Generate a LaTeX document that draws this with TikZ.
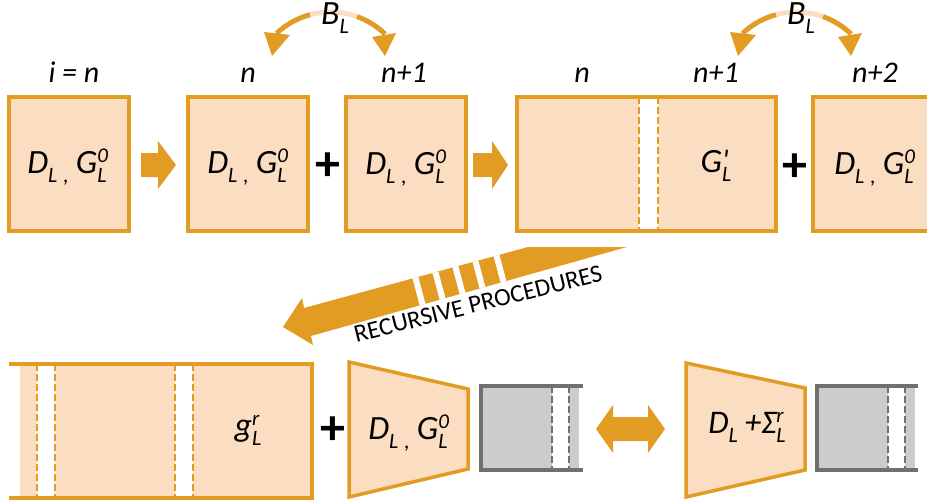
\documentclass[tikz,border=0pt]{standalone}
\usepackage{fontspec}
\setmainfont{Carlito}
\newfontfamily\primefont{Carlito}
\definecolor{org}{RGB}{226,156,36}
\definecolor{peach}{RGB}{251,221,193}
\definecolor{gfill}{RGB}{204,204,204}
\definecolor{gstroke}{RGB}{112,112,112}
\newcommand\fsz[1]{\fontsize{#1}{#1}\selectfont}
\newcommand\SbSp[2]{\rlap{\raisebox{11pt}{\fsz{21}#1}}\raisebox{-9pt}{\fsz{22}#2}}
\newcommand\Sbs[1]{\raisebox{-9pt}{\fsz{22}#1}}
\newcommand\DGtxt{D\Sbs{L\hspace{6pt},}\hspace{7pt}G\SbSp{0}{L}}
\begin{document}
\begin{tikzpicture}[x=1pt,y=-1pt,
  obox/.style={draw=org, fill=peach, line width=3.5pt, rectangle, inner sep=0pt, outer sep=0pt, line join=miter},
  oline/.style={draw=org, line width=3.5pt, line join=miter},
  grayline/.style={draw=gstroke, line width=3.5pt, line join=miter},
  gapline/.style={draw=org, line width=2.2pt, dash pattern=on 7pt off 3pt},
  ggapline/.style={draw=gstroke, line width=2.2pt, dash pattern=on 7pt off 3pt},
  blockarrow/.style={fill=org, draw=none},
  mt/.style={font=\fsz{34}\itshape, inner sep=0pt, anchor=base},
  lab/.style={font=\fsz{30}\itshape, inner sep=0pt, anchor=base},
  pl/.style={font=\fsz{50}\bfseries, inner sep=0pt}
]
\useasboundingbox (0,0) rectangle (927,503);

% ---------- top row ----------
\node[obox, minimum width=120pt, minimum height=134pt] (b1) at (69,164) {};
\node[obox, minimum width=120pt, minimum height=134pt] (b2) at (248,164) {};
\node[obox, minimum width=120pt, minimum height=134pt] (b3) at (406,164) {};
\node[obox, minimum width=259pt, minimum height=134pt] (b4) at (646.5,164) {};
\fill[white] (639,97) rectangle (658,231);
\draw[gapline] (639,97) -- (639,231);
\draw[gapline] (658,97) -- (658,231);
\draw[oline] (b4.north west) rectangle (b4.south east);
\fill[peach] (813,97) rectangle (930,231);
\draw[oline] (930,97) -- (813,97) -- (813,231) -- (930,231);

\node[mt] (t1) at (67,173) {\DGtxt};
\node[mt] (t2) at (247,173) {\DGtxt};
\node[mt] (t3) at (405,174) {\DGtxt};
\node[mt] (t4) at (716,172) {G\rlap{\raisebox{2pt}{\primefont\itshape\fsz{30}'}}\Sbs{L}};
\node[mt] (t5) at (874,174) {\DGtxt};

\node[lab] (l1) at (74,83) {i = n};
\node[lab] (l2) at (248,83) {n};
\node[lab] (l3) at (404,83) {n+1};
\node[lab] (l4) at (582,83) {n};
\node[lab] (l5) at (716,83) {n+1};
\node[lab] (l6) at (875,83) {n+2};

\node[pl] (p1) at (327.5,167) {+};
\node[pl] (p2) at (795,167.5) {+};

\fill[blockarrow] (141,153) -- (158,153) -- (158,141) -- (176,165) -- (158,189) -- (158,177) -- (141,177) -- cycle;
\fill[blockarrow] (473,153) -- (492,153) -- (492,141) -- (508,165) -- (492,189) -- (492,177) -- (473,177) -- cycle;

% B_L arcs
\foreach \sx in {0,466}{
\begin{scope}[xshift=\sx pt]
  \draw[org, line width=5pt] plot[domain=-133.4:-105, samples=20] ({330.5+78.6*cos(\x)},{90.6+78.6*sin(\x)});
  \draw[peach, line width=5pt] plot[domain=-105:-70.3, samples=20] ({330.5+78.6*cos(\x)},{90.6+78.6*sin(\x)});
  \draw[org, line width=5pt] plot[domain=-70.3:-46, samples=20] ({330.5+78.6*cos(\x)},{90.6+78.6*sin(\x)});
  \fill[org] (264,32) -- (290,35) -- (272,56) -- cycle;
  \fill[org] (372,37) -- (396,33) -- (385,56) -- cycle;
  \node[mt] at (335,25) {B\Sbs{L}};
\end{scope}}

% ---------- recursive arrow ----------
\begin{scope}
  \fill[blockarrow] (283,327) -- (302,298) -- (304,308) -- (528,247) -- (627,247) -- (311,336) -- (313,345) -- cycle;
  \clip (283,327) -- (302,298) -- (304,308) -- (528,247) -- (627,247) -- (311,336) -- (313,345) -- cycle;
  \foreach \cx/\cy in {419/291.2, 439/285.6, 459/280.1, 479/274.6, 500/268.8}{
    \draw[white, line width=6pt] (\cx-10.4,\cy-38.8) -- (\cx+10.4,\cy+38.8);
  }
\end{scope}
\node[font=\fsz{25}, rotate=14, anchor=base, inner sep=0pt] (rp) at (480,311.5) {RECURSIVE PROCEDURES};

% ---------- bottom row ----------
\fill[peach] (20,364) rectangle (312,498);
\fill[white] (37,364) rectangle (55,498);
\fill[white] (175,364) rectangle (193,498);
\foreach \gx in {37,55,175,193}{\draw[gapline] (\gx,364) -- (\gx,498);}
\draw[oline] (9,364) -- (312,364) -- (312,498) -- (9,498);
\node[mt] (t6) at (248,436) {g\SbSp{r}{L}};

\node[pl] (p3) at (332.5,431) {+};

\draw[obox] (349,362) -- (468,389) -- (468,469) -- (349,497) -- cycle;
\node[mt] (t7) at (408,439) {\DGtxt};

\fill[gfill] (481,386) rectangle (579,470);
\fill[white] (552,386) rectangle (569,470);
\foreach \gx in {552,569}{\draw[ggapline] (\gx,386) -- (\gx,470);}
\draw[grayline] (583,386) -- (481,386) -- (481,470) -- (583,470);

\fill[blockarrow] (596,429) -- (613,405) -- (613,417) -- (648,417) -- (648,405) -- (665,429) -- (648,453) -- (648,441) -- (613,441) -- (613,453) -- cycle;

\draw[obox] (686,363) -- (805,388) -- (805,470) -- (686,497) -- cycle;
\node[mt, font=\fsz{33}\itshape] (t8) at (747,433) {D\Sbs{L}\hspace{7pt}+\char"03A3\SbSp{r}{L}};

\fill[gfill] (817,386) rectangle (915,470);
\fill[white] (888,386) rectangle (905,470);
\foreach \gx in {888,905}{\draw[ggapline] (\gx,386) -- (\gx,470);}
\draw[grayline] (918,386) -- (817,386) -- (817,470) -- (918,470);
\end{tikzpicture}
\end{document}
